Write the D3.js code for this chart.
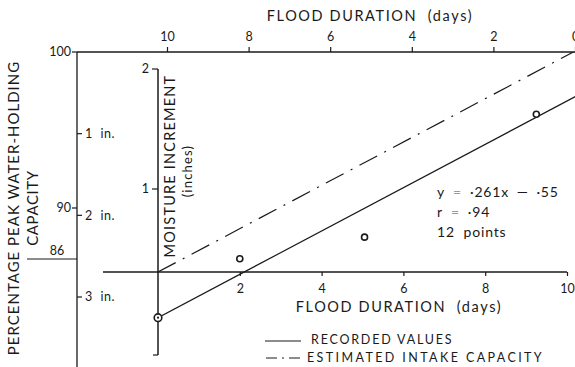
<!DOCTYPE html>
<html>
<head>
<meta charset="utf-8">
<script src="https://cdn.jsdelivr.net/npm/d3@7"></script>
<style>
  body { margin: 0; background: #fff; }
  svg { display: block; }
  text { font-family: Lato, "Open Sans", sans-serif; fill: #1a1a1a; }
</style>
</head>
<body>
<svg id="chart" width="575" height="367"></svg>
<script>
// Recorded moisture increments against flood duration
const floodDays = [0, 2.0, 5.05, 9.25];
const moistureInches = [-0.55, 0.16, 0.42, 1.9];

// Fitted line (recorded) and estimated intake capacity: [slope, intercept]
const recordedFit = [0.261, -0.55];
const intakeFit = [0.261, 0];
const fitRangeDays = [0, 10.4];

// Axis ticks
const topDayTicks = [10, 8, 6, 4, 2, 0];
const bottomDayTicks = [2, 4, 6, 8, 10];
const percentTicks = [100, 90];
const percentBase = 86;
const inchDeficitTicks = [1, 2, 3];
const moistureTicks = [1, 2];

// Text
const durationTitle = "FLOOD DURATION\u00a0\u00a0(days)";
const percentTitle = ["PERCENTAGE PEAK WATER-HOLDING", "CAPACITY"];
const moistureTitle = ["MOISTURE INCREMENT", "(inches)"];
const fitNotes = [
  ["y", "=", "\u00b7261x\u2002\u2014\u2002\u00b755"],
  ["r", "=", "\u00b794"],
  ["12\u00a0\u00a0points", "", ""]
];
const legendLabels = ["RECORDED VALUES", "ESTIMATED INTAKE CAPACITY"];

const svg = d3.select("#chart");
const ink = "#1a1a1a";

// Scales
const xBottom = d3.scaleLinear().domain([0, 10]).range([158, 567]);
const xTop = d3.scaleLinear().domain([10, 0]).range([167, 575]);
const y = d3.scaleLinear().domain([0, 1]).range([272, 189]);
// inner moisture axis as lettered on the sheet: its "2" sits at the axis top
const yInnerAxis = d3.scaleLinear().domain([-1, 0, 1, 2]).range([y(-1), y(0), y(1), 69]);
const pct = d3.scaleLinear().domain([86, 90, 100]).range([259, 208, 52]);
const deficit = d3.scaleLinear().domain([0, 3]).range([52, 297]);

const outerX = 77;
const innerX = xBottom(0);

const line = (g, x1, y1, x2, y2, w = 1.2) =>
  g.append("line").attr("x1", x1).attr("y1", y1).attr("x2", x2).attr("y2", y2)
    .attr("stroke", ink).attr("stroke-width", w);

// ---- top axis (flood duration, reversed) ----
line(svg, outerX, pct(100), 575, pct(100), 1.3);
const topAxis = svg.append("g").attr("transform", `translate(0,${pct(100)})`)
  .call(d3.axisTop(xTop).tickValues(topDayTicks).tickSize(5).tickPadding(6));
topAxis.select(".domain").remove();
topAxis.selectAll("line").attr("stroke", ink).attr("stroke-width", 1.2);
topAxis.selectAll("text").style("font-size", "12.5px").style("font-family", "Lato, sans-serif").attr("fill", ink);

svg.append("text").attr("x", 370).attr("y", 21).attr("text-anchor", "middle")
  .style("font-size", "14.5px").style("letter-spacing", "1.6px").text(durationTitle);

// ---- outer percentage axis ----
line(svg, outerX, pct(100), outerX, 367, 1.3);
percentTicks.forEach(v => {
  line(svg, outerX - 5, pct(v), outerX, pct(v));
  svg.append("text").attr("x", outerX - 6).attr("y", pct(v)).attr("dy", "0.35em")
    .attr("text-anchor", "end").style("font-size", "12.5px").text(v);
});
line(svg, 27, pct(percentBase), outerX, pct(percentBase));
svg.append("text").attr("x", 57).attr("y", pct(percentBase) - 4).attr("text-anchor", "middle")
  .style("font-size", "12.5px").text(percentBase);

inchDeficitTicks.forEach(v => {
  line(svg, outerX, deficit(v), outerX + 5, deficit(v));
  svg.append("text").attr("x", outerX + 8).attr("y", deficit(v)).attr("dy", "0.35em")
    .style("font-size", "12.5px").style("letter-spacing", "0.6px").text(`${v}\u00a0\u00a0in.`);
});

svg.append("text").attr("transform", "translate(19,208) rotate(-90)").attr("text-anchor", "middle")
  .style("font-size", "15px").style("letter-spacing", "1px").text(percentTitle[0]);
svg.append("text").attr("transform", "translate(38,208) rotate(-90)").attr("text-anchor", "middle")
  .style("font-size", "15px").style("letter-spacing", "0.6px").text(percentTitle[1]);

// ---- inner moisture axis ----
line(svg, innerX, yInnerAxis(2), innerX, y(-1), 1.5);
line(svg, innerX - 5, y(-1), innerX, y(-1));
moistureTicks.forEach(v => {
  line(svg, innerX - 6, yInnerAxis(v), innerX, yInnerAxis(v));
  svg.append("text").attr("x", innerX - 9).attr("y", yInnerAxis(v)).attr("dy", "0.35em")
    .attr("text-anchor", "end").style("font-size", "12.5px").text(v);
});
svg.append("text").attr("transform", "translate(170,166) rotate(-90)").attr("text-anchor", "middle")
  .attr("dy", "0.35em").style("font-size", "14.5px").style("letter-spacing", "1.2px").text(moistureTitle[0]);
svg.append("text").attr("transform", "translate(187,171) rotate(-90)").attr("text-anchor", "middle")
  .attr("dy", "0.35em").style("font-size", "13px").style("letter-spacing", "1.2px").text(moistureTitle[1]);

// ---- bottom axis (flood duration) ----
line(svg, 103, y(0), xBottom(10), y(0), 1.3);
const bottomAxis = svg.append("g").attr("transform", `translate(0,${y(0)})`)
  .call(d3.axisBottom(xBottom).tickValues(bottomDayTicks).tickSize(4).tickPadding(8));
bottomAxis.select(".domain").remove();
bottomAxis.selectAll("line").attr("stroke", ink).attr("stroke-width", 1.2);
bottomAxis.selectAll("text").style("font-size", "12.5px").style("font-family", "Lato, sans-serif").attr("fill", ink);

svg.append("text").attr("x", 399).attr("y", 312).attr("text-anchor", "middle")
  .style("font-size", "14.5px").style("letter-spacing", "1.6px").text(durationTitle);

// ---- fitted lines ----
const plot = svg.append("g");
plot.append("clipPath").attr("id", "clip").append("rect")
  .attr("x", innerX).attr("y", pct(100)).attr("width", 575 - innerX).attr("height", 367);
const fitPath = ([m, c]) => d3.line()(fitRangeDays.map(d => [xBottom(d), y(m * d + c)]));

plot.append("path").attr("clip-path", "url(#clip)").attr("d", fitPath(recordedFit))
  .attr("fill", "none").attr("stroke", ink).attr("stroke-width", 1.2);
plot.append("path").attr("clip-path", "url(#clip)").attr("d", fitPath(intakeFit))
  .attr("fill", "none").attr("stroke", ink).attr("stroke-width", 1.2)
  .attr("stroke-dasharray", "20,8,2,8");

// ---- recorded points ----
plot.selectAll("circle.pt").data(floodDays).join("circle").attr("class", "pt")
  .attr("cx", d => xBottom(d)).attr("cy", (d, i) => y(moistureInches[i]))
  .attr("r", (d, i) => i === 0 ? 3.8 : 3)
  .attr("fill", "#fff").attr("stroke", ink).attr("stroke-width", 1.6);
plot.append("circle").attr("cx", xBottom(floodDays[0])).attr("cy", y(moistureInches[0]))
  .attr("r", 1.1).attr("fill", ink);

// ---- regression notes (the "=" signs print faintly) ----
fitNotes.forEach((parts, i) => {
  const t = svg.append("text").attr("x", 437).attr("y", 197 + i * 20)
    .style("font-size", "14px").style("letter-spacing", "0.8px");
  t.append("tspan").text(parts[0]);
  if (parts[1]) {
    t.append("tspan").attr("dx", 8).attr("fill", "#9a9a9a").text(parts[1]);
    t.append("tspan").attr("dx", 8).text(parts[2]);
  }
});

// ---- legend ----
const legend = svg.append("g");
line(legend, 265, 341, 301, 341, 1.1);
legend.append("text").attr("x", 311).attr("y", 344).style("font-size", "12.5px")
  .style("letter-spacing", "1.8px").text(legendLabels[0]);
legend.append("path").attr("d", d3.line()([[266, 358], [303, 358]]))
  .attr("stroke", ink).attr("stroke-width", 1.1).attr("stroke-dasharray", "11,5,2,5");
legend.append("text").attr("x", 307).attr("y", 362).style("font-size", "12.5px")
  .style("letter-spacing", "2.4px").text(legendLabels[1]);
</script>
</body>
</html>
